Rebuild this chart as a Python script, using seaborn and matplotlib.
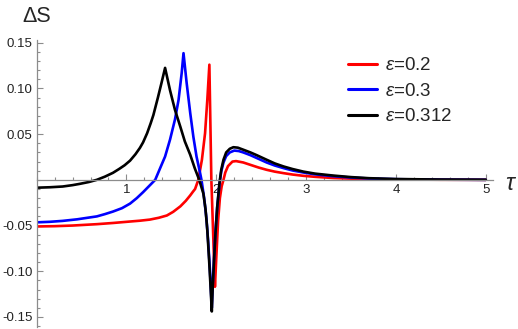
import pandas as pd
import seaborn as sns
import matplotlib.pyplot as plt
from matplotlib.ticker import MultipleLocator, FixedLocator

# eps = 0.2 (red)
tau_r = [0.0, 0.2, 0.4, 0.67, 0.85, 1.04, 1.15, 1.26, 1.36, 1.45, 1.52, 1.60, 1.66, 1.71,
         1.74, 1.764, 1.80, 1.84, 1.875, 1.90, 1.923, 1.945, 1.985, 2.00, 2.02, 2.04, 2.06,
         2.08, 2.10, 2.13, 2.18, 2.22, 2.30, 2.38, 2.47, 2.56, 2.65, 2.75, 2.85, 2.97, 3.10,
         3.30, 3.50, 3.70, 4.0, 4.5, 5.0]
ds_r = [-0.051, -0.0507, -0.050, -0.0485, -0.0472, -0.0456, -0.0447, -0.0435, -0.0415,
        -0.039, -0.035, -0.029, -0.023, -0.017, -0.013, -0.010, 0.0, 0.022, 0.051, 0.0875,
        0.126, 0.0, -0.117, -0.085, -0.045, -0.020, -0.007, 0.0, 0.008, 0.015, 0.020,
        0.0205, 0.019, 0.0164, 0.0135, 0.011, 0.009, 0.0073, 0.0058, 0.0044, 0.0033, 0.002,
        0.0013, 0.0008, 0.0004, 0.0001, 0.0]

# eps = 0.3 (blue)
tau_b = [0.0, 0.15, 0.29, 0.45, 0.58, 0.67, 0.76, 0.85, 0.95, 1.04, 1.115, 1.185, 1.25,
         1.32, 1.375, 1.43, 1.485, 1.54, 1.58, 1.615, 1.635, 1.67, 1.71, 1.745, 1.78, 1.82,
         1.835, 1.865, 1.89, 1.91, 1.93, 1.95, 1.96, 1.975, 1.99, 2.01, 2.035, 2.055, 2.08,
         2.11, 2.15, 2.20, 2.25, 2.30, 2.38, 2.47, 2.56, 2.65, 2.75, 2.85, 2.97, 3.10, 3.30,
         3.50, 3.70, 4.0, 4.5, 5.0]
ds_b = [-0.0465, -0.0459, -0.0449, -0.0432, -0.0413, -0.040, -0.0375, -0.0347, -0.031,
        -0.026, -0.020, -0.0135, -0.007, 0.0, 0.0128, 0.0255, 0.044, 0.066, 0.0875, 0.117,
        0.1386, 0.106, 0.073, 0.047, 0.0255, 0.0073, 0.0, -0.020, -0.042, -0.068, -0.10,
        -0.140, -0.115, -0.085, -0.058, -0.030, -0.005, 0.009, 0.019, 0.026, 0.030, 0.032,
        0.0315, 0.030, 0.027, 0.023, 0.019, 0.0157, 0.0128, 0.0102, 0.008, 0.006, 0.004,
        0.0025, 0.0015, 0.0007, 0.0002, 0.0]

# eps = 0.312 (black)
tau_k = [0.0, 0.15, 0.29, 0.40, 0.48, 0.58, 0.67, 0.76, 0.85, 0.92, 0.98, 1.04, 1.10, 1.15,
         1.185, 1.23, 1.27, 1.30, 1.35, 1.39, 1.43, 1.485, 1.54, 1.60, 1.65, 1.71, 1.76,
         1.81, 1.856, 1.88, 1.90, 1.92, 1.935, 1.95, 1.96, 1.975, 1.99, 2.01, 2.035, 2.055,
         2.08, 2.11, 2.15, 2.19, 2.24, 2.30, 2.38, 2.45, 2.56, 2.65, 2.75, 2.85, 2.97, 3.10,
         3.30, 3.50, 3.70, 4.0, 4.5, 5.0]
ds_k = [-0.0086, -0.0081, -0.0073, -0.0058, -0.0044, -0.0024, 0.0, 0.0035, 0.0077, 0.012,
        0.016, 0.021, 0.028, 0.035, 0.041, 0.051, 0.062, 0.071, 0.090, 0.106, 0.1225, 0.098,
        0.0766, 0.058, 0.042, 0.0274, 0.0128, 0.0, -0.015, -0.032, -0.055, -0.088, -0.115,
        -0.144, -0.118, -0.088, -0.060, -0.030, -0.004, 0.011, 0.022, 0.030, 0.034, 0.0357,
        0.0352, 0.033, 0.030, 0.027, 0.022, 0.018, 0.0146, 0.0118, 0.009, 0.0068, 0.0047,
        0.003, 0.0018, 0.0009, 0.0003, 0.0001]

labels = [r'$\varepsilon$=0.2', r'$\varepsilon$=0.3', r'$\varepsilon$=0.312']
colors = ['#ff0000', '#0000ff', '#000000']

sns.set_style("white")
plt.rcParams['font.family'] = ['Liberation Sans', 'DejaVu Sans']
plt.rcParams['mathtext.fontset'] = 'custom'
plt.rcParams['mathtext.rm'] = 'Liberation Sans'
plt.rcParams['mathtext.it'] = 'Liberation Sans:italic'

fig = plt.figure(figsize=(5.18, 3.29), dpi=100)
ax = fig.add_axes([0.0707, 0.0061, 0.881, 0.8723])

series = [(tau_r, ds_r), (tau_b, ds_b), (tau_k, ds_k)]
for (t, d), lab, c in zip(series, labels, colors):
    df = pd.DataFrame({"tau": t, "dS": d})
    sns.lineplot(data=df, x="tau", y="dS", color=c, lw=1.9, label=lab,
                 sort=False, estimator=None, ax=ax)

ax.set_xlim(0, 5.08)
ax.set_ylim(-0.161, 0.153)
ax.set_xlabel("")
ax.set_ylabel("")

axis_col = '#8c8c8c'
for s in ['top', 'right']:
    ax.spines[s].set_visible(False)
ax.spines['left'].set_position(('data', 0))
ax.spines['bottom'].set_position(('data', 0))
for s in ['left', 'bottom']:
    ax.spines[s].set_color(axis_col)
    ax.spines[s].set_linewidth(0.9)

ax.xaxis.set_major_locator(FixedLocator([1, 2, 3, 4, 5]))
ax.xaxis.set_minor_locator(MultipleLocator(0.2))
ax.yaxis.set_major_locator(FixedLocator([-0.15, -0.10, -0.05, 0.05, 0.10, 0.15]))
ax.yaxis.set_minor_locator(MultipleLocator(0.01))
ax.set_yticklabels(['-0.15', '-0.10', '-0.05', '0.05', '0.10', '0.15'])
ax.tick_params(which='both', direction='in', color=axis_col, width=0.8,
               bottom=True, left=True, labelsize=9.5, labelcolor='#222222')
ax.tick_params(which='major', length=4, pad=3)
ax.tick_params(which='minor', length=2.3)

leg = ax.legend(loc='upper left', bbox_to_anchor=(348 / 518, 1 - 57 / 329),
                bbox_transform=fig.transFigure, frameon=False, fontsize=13.5,
                handlelength=1.55, handletextpad=0.4, labelspacing=0.45,
                borderpad=0, borderaxespad=0)
for h in leg.get_lines():
    h.set_linewidth(2.2)

fig.text(37 / 518, 1 - 16.5 / 329, 'ΔS', ha='center', va='center', fontsize=15.5)
fig.text(511 / 518, 1 - 184 / 329, r'$\tau$', ha='center', va='center', fontsize=17)

fig.savefig("out.png", dpi=100)
